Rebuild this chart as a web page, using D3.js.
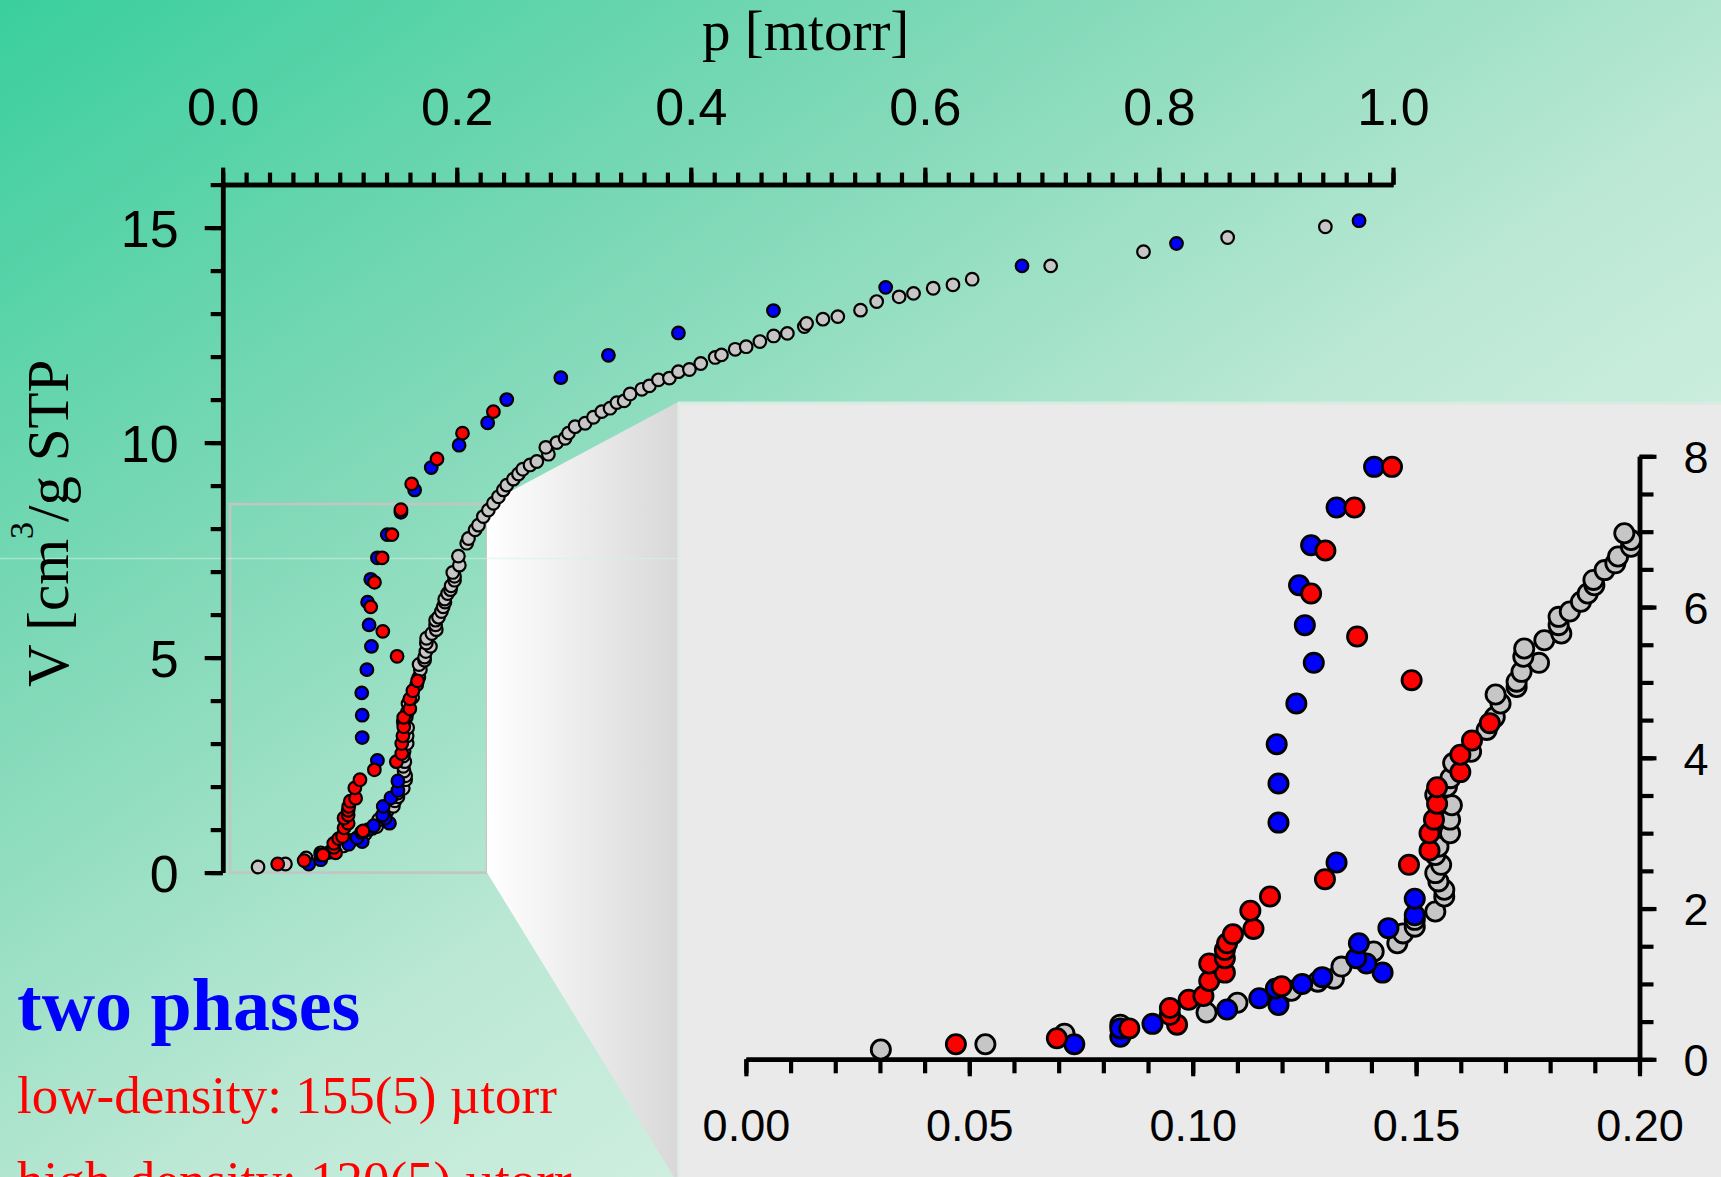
<!DOCTYPE html>
<html><head><meta charset="utf-8">
<script src="https://cdn.jsdelivr.net/npm/d3@7"></script>
<style>html,body{margin:0;padding:0;overflow:hidden;background:#fff}</style>
</head><body>
<svg id="c" width="1721" height="1177"></svg>
<script>
// ---- data: [p (mtorr), V (cm3/g STP)] ----
const grayData = [
 [0.0302,0.13],[0.0536,0.20],[0.0713,0.34],[0.0838,0.46],[0.1031,0.62],[0.1100,0.75],[0.1195,0.83],[0.1221,0.91],
 [0.1280,1.03],[0.1316,1.07],[0.1333,1.23],[0.1405,1.43],[0.1458,1.54],[0.1471,1.67],[0.1497,1.76],[0.1497,1.85],
 [0.1543,1.96],[0.1563,2.16],[0.1563,2.25],[0.1550,2.36],[0.1543,2.47],[0.1556,2.58],[0.1543,2.71],[0.1550,2.82],
 [0.1576,3.00],[0.1576,3.18],[0.1580,3.37],[0.1543,3.51],[0.1569,3.62],[0.1577,3.73],[0.1583,3.93],[0.1623,4.08],
 [0.1658,4.37],[0.1676,4.54],[0.1689,4.72],[0.1678,4.84],[0.1725,4.94],[0.1725,5.01],[0.1736,5.14],[0.1775,5.26],
 [0.1740,5.34],[0.1742,5.45],[0.1787,5.56],[0.1825,5.65],[0.1819,5.76],[0.1819,5.87],[0.1844,5.94],[0.1869,6.07],
 [0.1884,6.18],[0.1899,6.29],[0.1897,6.36],[0.1922,6.49],[0.1946,6.58],[0.1952,6.67],[0.1981,6.80],[0.1981,6.89],
 [0.1966,6.98],[0.2022,7.15],[0.2014,7.36],[0.2085,7.66],[0.2100,7.77],[0.2156,7.97],[0.2185,8.08],[0.2227,8.28],
 [0.2270,8.43],[0.2313,8.59],[0.2356,8.74],[0.2398,8.90],[0.2427,9.01],[0.2484,9.15],[0.2527,9.27],[0.2564,9.38],
 [0.2626,9.48],[0.2684,9.56],[0.2783,9.73],[0.2761,9.89],[0.2855,10.00],[0.2926,10.10],[0.2954,10.22],[0.3011,10.37],
 [0.3097,10.45],[0.3168,10.59],[0.3239,10.72],[0.3310,10.80],[0.3368,10.93],[0.3430,10.97],[0.3481,11.13],[0.3581,11.24],
 [0.3646,11.32],[0.3723,11.46],[0.3817,11.50],[0.3894,11.65],[0.3988,11.70],[0.4085,11.84],[0.4208,11.98],[0.4262,12.04],
 [0.4379,12.17],[0.4473,12.23],[0.4590,12.35],[0.4708,12.48],[0.4825,12.54],[0.4970,12.70],[0.4989,12.77],[0.5129,12.87],
 [0.5256,12.93],[0.5450,13.08],[0.5588,13.28],[0.5780,13.39],[0.5903,13.47],[0.6071,13.59],[0.6240,13.67],[0.6404,13.80],
 [0.7075,14.11],[0.7868,14.44],[0.8587,14.77],[0.9422,15.02]
];
const blueData = [
 [0.0735,0.20],[0.0838,0.30],[0.0838,0.41],[0.0910,0.47],[0.1077,0.66],[0.1192,0.72],[0.1149,0.81],[0.1186,0.94],
 [0.1245,1.00],[0.1290,1.09],[0.1425,1.15],[0.1389,1.27],[0.1366,1.34],[0.1372,1.54],[0.1438,1.74],[0.1497,1.91],
 [0.1497,2.13],[0.1322,2.61],[0.1192,3.14],[0.1192,3.66],[0.1188,4.18],[0.1232,4.72],[0.1271,5.26],[0.1251,5.76],
 [0.1238,6.29],[0.1265,6.82],[0.1322,7.32],[0.1406,7.86],[0.1523,8.38],[0.1640,8.90],[0.1782,9.42],[0.2020,9.94],
 [0.2264,10.46],[0.2427,11.00],[0.2889,11.51],[0.3296,12.03],[0.3894,12.55],[0.4706,13.07],[0.5665,13.61],[0.6830,14.11],
 [0.8150,14.63],[0.9710,15.16]
];
const redData = [
 [0.0470,0.20],[0.0696,0.28],[0.0858,0.41],[0.0965,0.46],[0.0949,0.59],[0.0949,0.68],[0.0991,0.79],[0.1024,0.84],
 [0.1199,0.97],[0.1037,1.04],[0.1072,1.15],[0.1037,1.27],[0.1072,1.34],[0.1072,1.45],[0.1077,1.54],[0.1090,1.66],
 [0.1136,1.73],[0.1129,1.97],[0.1173,2.16],[0.1296,2.39],[0.1484,2.58],[0.1530,2.77],[0.1530,3.00],[0.1540,3.18],
 [0.1547,3.39],[0.1547,3.61],[0.1599,3.81],[0.1599,4.04],[0.1625,4.23],[0.1665,4.46],[0.1490,5.03],[0.1368,5.61],
 [0.1265,6.18],[0.1297,6.75],[0.1362,7.32],[0.1446,7.86],[0.1523,8.44],[0.1615,9.04],[0.1831,9.62],[0.2049,10.22],
 [0.2313,10.72]
];
const seriesList = [
 {name:"gray", color:"#c6c6c6", data:grayData},
 {name:"blue", color:"#0000ff", data:blueData},
 {name:"red",  color:"#ff0000", data:redData}
];
const mainXMajor = [0,0.2,0.4,0.6,0.8,1.0];
const mainYMajor = [0,5,10,15];
const insetXMajor = [0,0.05,0.10,0.15,0.20];
const insetYMajor = [0,2,4,6,8];
const xTitle = "p [mtorr]";
const phaseTitle = "two phases";
const phaseLines = ["low-density: 155(5) \u00B5torr","high-density: 120(5) \u00B5torr"];
// zoom window drawn in main plot (data units)
const zoomBox = {p0:0.0063, p1:0.2258, v0:0, v1:8.57};

// ---- geometry ----
const W=1721,H=1177;
const xMain = d3.scaleLinear().domain([0,1]).range([222.7,1393]);
const yMain = d3.scaleLinear().domain([0,16]).range([872.6,184.6]);
const xIn = d3.scaleLinear().domain([0,0.2]).range([745.9,1639.5]);
const yIn = d3.scaleLinear().domain([0,8]).range([1059.3,456.3]);
const panel = {x:678,y:402};
const sans = "'Liberation Sans', Arial, sans-serif";
const serif = "'Liberation Serif', 'Times New Roman', serif";

const svg = d3.select("#c");
const defs = svg.append("defs");
const bg = defs.append("linearGradient").attr("id","bg").attr("x1",0).attr("y1",0).attr("x2",1).attr("y2",1);
[[0,"#3acf9d"],[0.3,"#80d9b8"],[0.55,"#bce8d5"],[1,"#f3fbf7"]].forEach(s=>bg.append("stop").attr("offset",s[0]).attr("stop-color",s[1]));
const pg = defs.append("linearGradient").attr("id","pg").attr("gradientUnits","userSpaceOnUse")
  .attr("x1",xMain(zoomBox.p1)).attr("y1",0).attr("x2",panel.x).attr("y2",0);
pg.append("stop").attr("offset",0).attr("stop-color","#ffffff");
pg.append("stop").attr("offset",1).attr("stop-color","#d8d8d8");
defs.append("clipPath").attr("id","ylabclip").append("rect").attr("x",0).attr("y",360).attr("width",200).attr("height",900);

svg.append("rect").attr("width",W).attr("height",H).attr("fill","url(#bg)");

// zoom box in main plot
const bx0=xMain(zoomBox.p0), bx1=xMain(zoomBox.p1), by0=yMain(zoomBox.v0), by1=yMain(zoomBox.v1);
svg.append("rect").attr("x",bx0).attr("y",by1).attr("width",bx1-bx0).attr("height",by0-by1)
  .attr("fill","none").attr("stroke","#c4c4c4").attr("stroke-width",2.5);
// connector polygon
svg.append("polygon").attr("points",[[bx1,by1],[panel.x,panel.y],[panel.x,H],[674,H],[bx1,by0]].map(d=>d.join(",")).join(" "))
  .attr("fill","url(#pg)");
// panel
svg.append("rect").attr("x",panel.x).attr("y",panel.y).attr("width",W-panel.x).attr("height",H-panel.y).attr("fill","#eaeaea");
svg.append("line").attr("x1",panel.x).attr("x2",W).attr("y1",panel.y+1).attr("y2",panel.y+1).attr("stroke","#d6ebe1").attr("stroke-width",3);
svg.append("line").attr("x1",panel.x+1).attr("x2",panel.x+1).attr("y1",panel.y).attr("y2",H).attr("stroke","#e3ebe7").attr("stroke-width",3);
// faint guide line
svg.append("line").attr("x1",0).attr("x2",panel.x).attr("y1",558.5).attr("y2",558.5).attr("stroke","#d2f2e4").attr("stroke-opacity",0.55).attr("stroke-width",1.5);

function styleAxis(g, fs, fam){
  g.select(".domain").attr("stroke","#000").attr("stroke-width",4.5);
  g.selectAll(".tick line").attr("stroke","#000").attr("stroke-width",4.2);
  g.selectAll(".tick text").attr("fill","#000").style("font-family",fam).style("font-size",fs+"px");
}
// ---- main axes ----
const mxMinor = d3.range(0,51).map(i=>i*0.02);
const myMinor = d3.range(0,17);
let g = svg.append("g").attr("transform",`translate(0,${yMain(16)})`)
  .call(d3.axisTop(xMain).tickValues(mxMinor).tickSize(12).tickSizeOuter(0).tickFormat(""));
styleAxis(g,52,sans);
g = svg.append("g").attr("transform",`translate(0,${yMain(16)})`)
  .call(d3.axisTop(xMain).tickValues(mainXMajor).tickSize(17).tickPadding(43).tickSizeOuter(0).tickFormat(d3.format(".1f")));
styleAxis(g,52,sans);
g = svg.append("g").attr("transform",`translate(${xMain(0)},0)`)
  .call(d3.axisLeft(yMain).tickValues(myMinor).tickSize(12).tickSizeOuter(0).tickFormat(""));
styleAxis(g,52,sans);
g = svg.append("g").attr("transform",`translate(${xMain(0)},0)`)
  .call(d3.axisLeft(yMain).tickValues(mainYMajor).tickSize(18).tickPadding(26).tickSizeOuter(0).tickFormat(d3.format("d")));
styleAxis(g,52,sans);
g.selectAll(".tick text").attr("dy","0.36em");

// titles
svg.append("text").attr("x",702).attr("y",50).text(xTitle)
  .style("font-family",serif).style("font-size","57px").attr("fill","#000");
const yl = svg.append("g").attr("clip-path","url(#ylabclip)").append("text")
  .attr("transform","translate(68,687) rotate(-90)")
  .style("font-family",serif).style("font-size","59px").attr("fill","#000");
yl.append("tspan").text("V [cm");
yl.append("tspan").text("3").style("font-size","34px").attr("dy",-35);
yl.append("tspan").text("/g STP]").attr("dy",35);

// main points
seriesList.forEach(s=>{
  svg.append("g").selectAll("circle").data(s.data).join("circle")
    .attr("cx",d=>xMain(d[0])).attr("cy",d=>yMain(d[1])).attr("r",6.3)
    .attr("fill",s.color).attr("stroke","#000").attr("stroke-width",2.2);
});

// ---- inset axes ----
const ixMinor = d3.range(0,21).map(i=>i*0.01);
const iyMinor = d3.range(0,17).map(i=>i*0.5);
g = svg.append("g").attr("transform",`translate(0,${yIn(0)})`)
  .call(d3.axisBottom(xIn).tickValues(ixMinor).tickSize(14).tickSizeOuter(0).tickFormat(""));
styleAxis(g,45,sans);
g = svg.append("g").attr("transform",`translate(0,${yIn(0)})`)
  .call(d3.axisBottom(xIn).tickValues(insetXMajor).tickSize(17).tickPadding(33).tickSizeOuter(0).tickFormat(d3.format(".2f")));
styleAxis(g,45,sans);
g = svg.append("g").attr("transform",`translate(${xIn(0.2)},0)`)
  .call(d3.axisRight(yIn).tickValues(iyMinor).tickSize(14).tickSizeOuter(0).tickFormat(""));
styleAxis(g,45,sans);
g = svg.append("g").attr("transform",`translate(${xIn(0.2)},0)`)
  .call(d3.axisRight(yIn).tickValues(insetYMajor).tickSize(17).tickPadding(27).tickSizeOuter(0).tickFormat(d3.format("d")));
styleAxis(g,45,sans);
g.selectAll(".tick text").attr("dy","0.36em");

// inset points
seriesList.forEach(s=>{
  svg.append("g").selectAll("circle").data(s.data.filter(d=>d[0]<=0.2 && d[1]<=8.1)).join("circle")
    .attr("cx",d=>xIn(d[0])).attr("cy",d=>yIn(d[1])).attr("r",9.6)
    .attr("fill",s.color).attr("stroke","#000").attr("stroke-width",2.8);
});

// ---- annotation text ----
svg.append("text").attr("x",17).attr("y",1030).text(phaseTitle)
  .style("font-family",serif).style("font-size","74px").style("font-weight","bold").attr("fill","#0000ff");
phaseLines.forEach((t,i)=>{
  svg.append("text").attr("x",17).attr("y",1113+i*85).text(t)
    .style("font-family",serif).style("font-size","53px").attr("fill","#ff0000");
});
</script>
</body></html>
